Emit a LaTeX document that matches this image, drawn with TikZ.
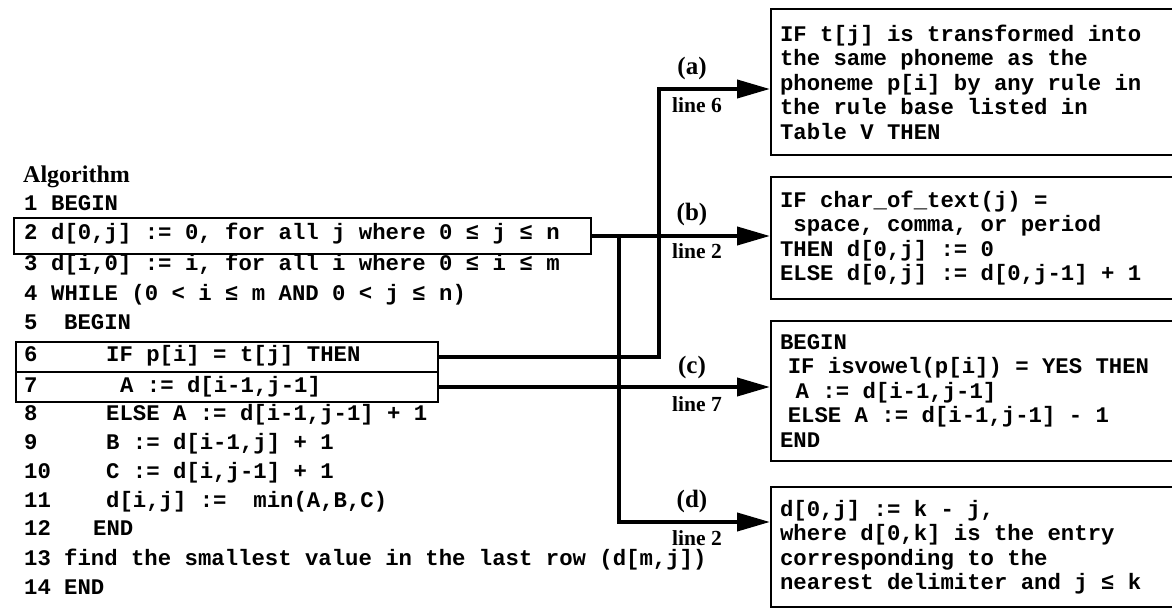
\documentclass[tikz,border=0pt]{standalone}
\usepackage{fontspec}
\setmainfont{Liberation Serif}
\setmonofont{Liberation Mono}[WordSpace={1,0,0}]
\usetikzlibrary{arrows.meta,calc}
\newcommand\codefont{\ttfamily\bfseries\fontsize{22.3pt}{24.5pt}\selectfont}
\newcommand\lblfont{\rmfamily\bfseries\fontsize{25pt}{27pt}\selectfont}
\newcommand\linefont{\rmfamily\bfseries\fontsize{21.5pt}{24pt}\selectfont}
\newcommand\fixsp{\spaceskip=0pt\xspaceskip=0pt\relax}
\tikzset{
 code/.style={anchor=base west, inner sep=0pt, font=\codefont},
 lbl/.style={font=\lblfont, inner sep=0pt},
 lnl/.style={font=\linefont, inner sep=0pt},
 lbox/.style={draw, line width=2pt, anchor=north west, inner sep=0pt},
 rbox/.style={draw, line width=2pt, anchor=north west, align=left, text width=396pt, inner xsep=9pt, inner ysep=0pt, font=\codefont},
 arr/.style={line width=4pt, -{Triangle[length=33pt,width=18pt]}},
}
\begin{document}
\begin{tikzpicture}[x=1pt,y=-1pt]
\useasboundingbox (0,0) rectangle (1172,609);
% left boxes
\node[lbox, minimum width=577pt, minimum height=36pt] (b2) at (13,217) {};
\node[lbox, minimum width=422pt, minimum height=30pt] (b6) at (15,341) {};
\node[lbox, minimum width=422pt, minimum height=30pt] (b7) at (15,371) {};
% code
\node[anchor=base west, inner sep=0pt, font=\rmfamily\bfseries\fontsize{24pt}{26pt}\selectfont] (alg) at (23,183) {Algorithm};
\foreach \n/\yy in {1/211,2/240,3/271,4/301,5/330,6/362,7/392,8/420,9/449,10/478,11/507,12/535,13/565,14/594}
  \node[code] (n\n) at (24,\yy) {\n};
\node[code] (c1) at (51,211) {BEGIN};
\node[code] (c2) at (51,240) {d[0,j] := 0, for all j where 0 ≤ j ≤ n};
\node[code] (c3) at (51,271) {d[i,0] := i, for all i where 0 ≤ i ≤ m};
\node[code] (c4) at (51,301) {WHILE (0 < i ≤ m AND 0 < j ≤ n)};
\node[code] (c5) at (64,330) {BEGIN};
\node[code] (c6) at (106,362) {IF p[i] = t[j] THEN};
\node[code] (c7) at (120,392) {A := d[i-1,j-1]};
\node[code] (c8) at (106,420) {ELSE A := d[i-1,j-1] + 1};
\node[code] (c9) at (106,449) {B := d[i-1,j] + 1};
\node[code] (c10) at (106,478) {C := d[i,j-1] + 1};
\node[code] (c11) at (106,507) {d[i,j] :=~~min(A,B,C)};
\node[code] (c12) at (93,535) {END};
\node[code] (c13) at (64,565) {find the smallest value in the last row (d[m,j])};
\node[code] (c14) at (64,594) {END};
% right boxes
\node[rbox, minimum height=146pt] (ba) at (770,8) {\fixsp IF t[j] is transformed into\\the same phoneme as the\\phoneme p[i] by any rule in\\the rule base listed in\\Table V THEN};
\node[rbox, minimum height=122pt] (bb) at (770,176) {\fixsp IF char\_of\_text(j) =\\\hspace*{0.6em}space, comma, or period\\THEN d[0,j] := 0\\ELSE d[0,j] := d[0,j-1] + 1};
\node[rbox, minimum height=140pt] (bc) at (770,320) {\fixsp BEGIN\\\hspace*{0.35em}IF isvowel(p[i]) = YES THEN\\\hspace*{0.7em}A := d[i-1,j-1]\\\hspace*{0.35em}ELSE A := d[i-1,j-1] - 1\\END};
\node[rbox, minimum height=120pt] (bd) at (770,486) {\fixsp d[0,j] := k - j,\\where d[0,k] is the entry\\corresponding to the\\nearest delimiter and j ≤ k};
% connector coordinates
\coordinate (va) at (659,0);
\coordinate (vd) at (619,0);
\coordinate (ya) at (0,89);
\coordinate (yd) at (0,522);
% connectors
\draw[arr] (b2.east) -- (bb.west |- b2.east);
\draw[arr] (b6.east) -- (va |- b6.east) -- (va |- ya) -- (ba.west |- ya);
\draw[arr] (b7.east) -- (bc.west |- b7.east);
\draw[arr] (vd |- b2.east) -- (vd |- yd) -- (bd.west |- yd);
% labels
\node[lbl] (la) at (692,68) {(a)};
\node[lnl] (la2) at (697,105) {line 6};
\node[lbl] (lb) at (692,214) {(b)};
\node[lnl] (lb2) at (697,251) {line 2};
\node[lbl] (lc) at (692,367) {(c)};
\node[lnl] (lc2) at (697,404) {line 7};
\node[lbl] (ld) at (692,501) {(d)};
\node[lnl] (ld2) at (697,538) {line 2};
\end{tikzpicture}
\end{document}
